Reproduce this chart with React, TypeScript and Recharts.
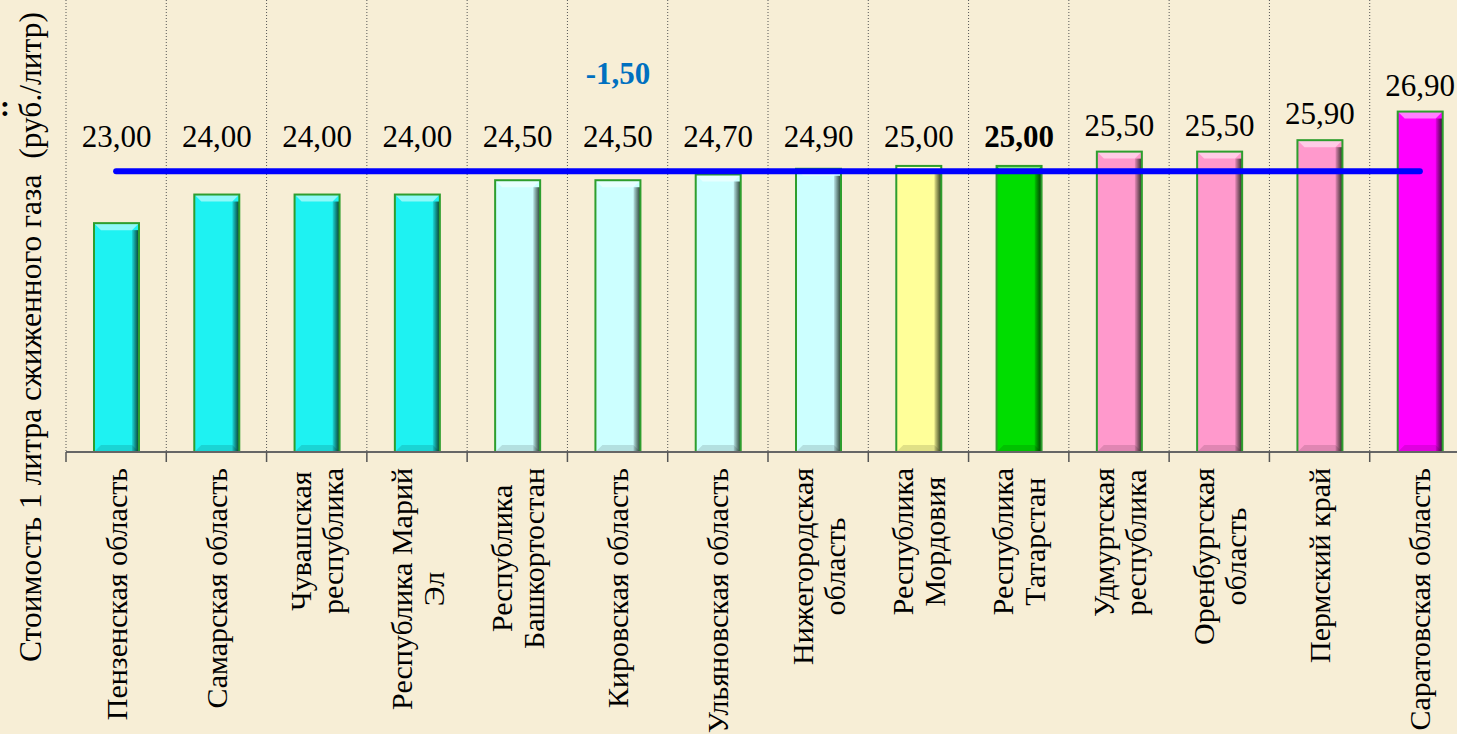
import React from 'react';
import {
  Bar,
  BarChart,
  CartesianGrid,
  Cell,
  LabelList,
  ReferenceLine,
  XAxis,
  YAxis,
} from 'recharts';

const categories = [
  'Пензенская область',
  'Самарская область',
  'Чувашская\nреспублика',
  'Республика Марий\nЭл',
  'Республика\nБашкортостан',
  'Кировская область',
  'Ульяновская область',
  'Нижегородская\nобласть',
  'Республика\nМордовия',
  'Республика\nТатарстан',
  'Удмуртская\nреспублика',
  'Оренбургская\nобласть',
  'Пермский край',
  'Саратовская область',
];
const prices = [23.0, 24.0, 24.0, 24.0, 24.5, 24.5, 24.7, 24.9, 25.0, 25.0, 25.5, 25.5, 25.9, 26.9];
const barColors = [
  '#1ef2f2', '#1ef2f2', '#1ef2f2', '#1ef2f2',
  '#ccffff', '#ccffff', '#ccffff', '#ccffff',
  '#ffff99', '#00dd00',
  '#ff99cc', '#ff99cc', '#ff99cc',
  '#ff00ff',
];
const notes = ['', '', '', '', '', '-1,50', '', '', '', '', '', '', '', ''];
const averagePrice = 24.81;
const highlighted = 'Республика\nТатарстан';
const yTitle = 'Стоимость 1 литра сжиженного газа  (руб./литр)';

const data = categories.map((name, i) => ({ name, price: prices[i], note: notes[i] }));

const CHART_W = 1480;
const CHART_H = 734;
const Y_W = 66;
const RIGHT = 10;
const X_H = 282;
const Y_MIN = 15;
const Y_MAX = 30.8;
const BAND = (CHART_W - Y_W - RIGHT) / categories.length;
const SERIF = "'Liberation Serif', 'DejaVu Serif', serif";
const serifStyle: React.CSSProperties = { fontFamily: SERIF };

const fmt = (v: number) => v.toFixed(2).replace('.', ',');

let measureCtx: CanvasRenderingContext2D | null = null;
const textWidth = (s: string) => {
  if (!measureCtx) {
    measureCtx = document.createElement('canvas').getContext('2d');
  }
  if (!measureCtx) return s.length * 14;
  measureCtx.font = `30px ${SERIF}`;
  return measureCtx.measureText(s).width;
};

const BevelBar = (props: any) => {
  const { x, y, width, height, fill, index } = props;
  if (!height || height <= 0) return null;
  const b = 7;
  const id = `shade-${index}`;
  return (
    <g>
      <defs>
        <linearGradient id={id} x1="0" y1="0" x2="1" y2="0">
          <stop offset="0%" stopColor="#000" stopOpacity={0.1} />
          <stop offset="100%" stopColor="#062006" stopOpacity={0.85} />
        </linearGradient>
      </defs>
      <rect x={x} y={y} width={width} height={height} fill={fill} />
      <polygon
        points={`${x},${y} ${x + width},${y} ${x + width - b},${y + b} ${x + b},${y + b}`}
        fill="#ffffff"
        fillOpacity={0.5}
      />
      <polygon
        points={`${x},${y + height} ${x + width},${y + height} ${x + width - b},${y + height - b} ${x + b},${y + height - b}`}
        fill="#000"
        fillOpacity={0.12}
      />
      <rect x={x + width - b} y={y + b} width={b} height={height - b} fill={`url(#${id})`} />
      <rect x={x} y={y} width={width} height={height} fill="none" stroke="#2e9e2e" strokeWidth={2} />
    </g>
  );
};

const ValueLabel = (props: any) => {
  const { x, y, width, height, value, index } = props;
  const pxPerUnit = height / (value - Y_MIN);
  const avgY = y + height - (averagePrice - Y_MIN) * pxPerUnit;
  const baseY = Math.min(y - 16, avgY - 24);
  const cx = x + width / 2;
  const bold = categories[index] === highlighted;
  return (
    <g>
      <text
        x={cx}
        y={baseY}
        textAnchor="middle"
        style={serifStyle}
        fontSize={31}
        fontWeight={bold ? 'bold' : 'normal'}
        fill="#000"
      >
        {fmt(value)}
      </text>
      {notes[index] ? (
        <text
          x={cx}
          y={baseY - 63}
          textAnchor="middle"
          style={serifStyle}
          fontSize={31}
          fontWeight="bold"
          fill="#0070c0"
        >
          {notes[index]}
        </text>
      ) : null}
    </g>
  );
};

const CategoryTick = (props: any) => {
  const { x, y, payload, index } = props;
  const axisY = y;
  const lines: string[] = String(payload.value).split('\n');
  const maxLen = Math.max(...lines.map(textWidth));
  const isLast = index === categories.length - 1;
  return (
    <g>
      <line x1={x - BAND / 2} y1={axisY} x2={x - BAND / 2} y2={axisY + 10} stroke="#555" strokeWidth={1.5} />
      {isLast ? (
        <line x1={x + BAND / 2} y1={axisY} x2={x + BAND / 2} y2={axisY + 10} stroke="#555" strokeWidth={1.5} />
      ) : null}
      <g transform={`translate(${x},${axisY}) rotate(-90)`}>
        {lines.map((ln, i) => (
          <text
            key={i}
            x={-16 - maxLen / 2}
            y={(i - (lines.length - 1) / 2) * 32}
            textAnchor="middle"
            dominantBaseline="central"
            style={serifStyle}
            fontSize={30}
            fill="#000"
          >
            {ln}
          </text>
        ))}
      </g>
    </g>
  );
};

const YTitle = () => (
  <g>
    <text
      transform="translate(30,337) rotate(-90)"
      textAnchor="middle"
      dominantBaseline="central"
      fontSize={31.5}
      fill="#000"
      style={{ ...serifStyle, whiteSpace: 'pre' }}
    >
      {yTitle}
    </text>
    <text x={0} y={116} style={serifStyle} fontSize={30} fontWeight="bold" fill="#000">
      :
    </text>
  </g>
);

const boundaryLines = ({ offset }: any) => {
  const left = offset?.left ?? Y_W;
  const w = offset?.width ?? CHART_W - Y_W - RIGHT;
  const step = w / categories.length;
  return categories.map((_, i) => left + i * step).concat([left + w]);
};

export default function App() {
  return (
    <div
      style={{
        position: 'fixed',
        left: 0,
        top: 0,
        width: 1457,
        height: 734,
        overflow: 'hidden',
        background: '#f7eed6',
        fontFamily: SERIF,
      }}
    >
      <BarChart
        width={CHART_W}
        height={CHART_H}
        data={data}
        margin={{ top: 0, right: RIGHT, bottom: 0, left: 0 }}
        style={serifStyle}
      >
        <CartesianGrid
          horizontal={false}
          vertical
          stroke="#555"
          strokeDasharray="1 2"
          verticalCoordinatesGenerator={boundaryLines}
        />
        <YAxis
          type="number"
          domain={[Y_MIN, Y_MAX]}
          width={Y_W}
          tick={false}
          tickLine={false}
          axisLine={false}
          allowDataOverflow
          label={{ content: () => <YTitle /> }}
        />
        <XAxis
          dataKey="name"
          height={X_H}
          interval={0}
          tickLine={false}
          tickSize={0}
          tickMargin={0}
          axisLine={{ stroke: '#666', strokeWidth: 2 }}
          tick={<CategoryTick />}
        />
        <Bar dataKey="price" barSize={45} isAnimationActive={false} shape={<BevelBar />}>
          {data.map((d, i) => (
            <Cell key={d.name} fill={barColors[i]} />
          ))}
          <LabelList dataKey="price" content={<ValueLabel />} />
        </Bar>
        <ReferenceLine
          segment={[
            { x: categories[0], y: averagePrice },
            { x: categories[categories.length - 1], y: averagePrice },
          ]}
          stroke="#0000ff"
          strokeWidth={6}
          strokeLinecap="round"
          ifOverflow="visible"
        />
      </BarChart>
    </div>
  );
}
